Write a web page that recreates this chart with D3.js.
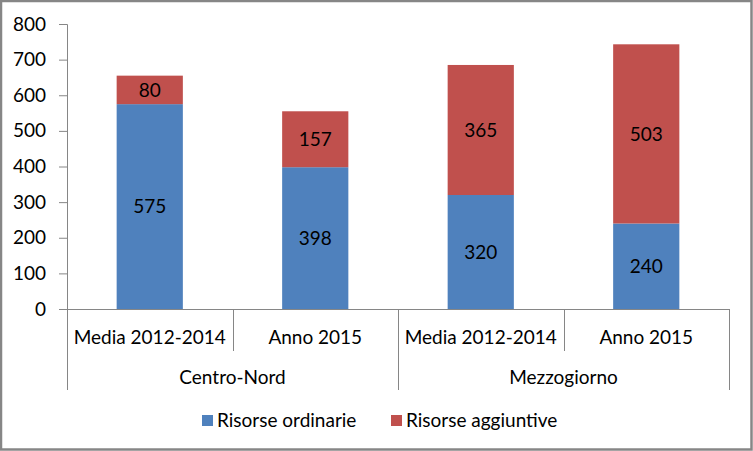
<!DOCTYPE html>
<html>
<head>
<meta charset="utf-8">
<script src="https://cdn.jsdelivr.net/npm/d3@7"></script>
<style>
  body { margin: 0; background: #fff; }
  svg text { font-family: Lato, "Open Sans", sans-serif; fill: #000; }
</style>
</head>
<body>
<svg id="chart" width="753" height="451"></svg>
<script>
// data
const groups = ['Centro-Nord', 'Mezzogiorno'];
const periods = ['Media 2012-2014', 'Anno 2015', 'Media 2012-2014', 'Anno 2015'];
const ordinarie = [575, 398, 320, 240];
const aggiuntive = [80, 157, 365, 503];
const yTicks = [0, 100, 200, 300, 400, 500, 600, 700, 800];
const seriesNames = ['Risorse ordinarie', 'Risorse aggiuntive'];
const colors = ['#4F81BD', '#C0504D'];

let svg = d3.select('#chart');
const width = +svg.attr('width'), height = +svg.attr('height');
const plotL = 67, plotR = 729, plotT = 24, plotB = 309;
const fs = 19;

// outer border
svg.append('rect')
    .attr('x', 1).attr('y', 1)
    .attr('width', width - 2.5).attr('height', height - 2.5)
    .attr('fill', 'none').attr('stroke', '#868686').attr('stroke-width', 2.5);

let x = d3.scaleBand().domain(d3.range(periods.length)).range([plotL, plotR]).paddingInner(0).paddingOuter(0);
let y = d3.scaleLinear().domain([0, 800]).range([plotB, plotT]);
const barW = x.bandwidth() * 0.4;

// y axis
let yAxis = svg.append('g')
    .attr('transform', 'translate(' + plotL + ',0)')
    .call(d3.axisLeft(y).tickValues(yTicks).tickSize(8).tickPadding(13));
yAxis.select('.domain').attr('stroke', '#868686');
yAxis.selectAll('.tick line').attr('stroke', '#868686');
yAxis.selectAll('.tick text').style('font-size', fs + 'px').attr('fill', '#000');

// stacked bars
let stack = periods.map((p, i) => [
    {s: 0, y0: 0, y1: ordinarie[i], v: ordinarie[i], i: i},
    {s: 1, y0: ordinarie[i], y1: ordinarie[i] + aggiuntive[i], v: aggiuntive[i], i: i}
]).flat();

svg.selectAll('rect.bar')
    .data(stack)
    .enter().append('rect')
    .attr('class', 'bar')
    .attr('x', d => x(d.i) + (x.bandwidth() - barW) / 2)
    .attr('width', barW)
    .attr('y', d => y(d.y1))
    .attr('height', d => y(d.y0) - y(d.y1))
    .attr('fill', d => colors[d.s]);

svg.selectAll('text.lbl')
    .data(stack)
    .enter().append('text')
    .attr('class', 'lbl')
    .attr('x', d => x(d.i) + x.bandwidth() / 2)
    .attr('y', d => (y(d.y0) + y(d.y1)) / 2)
    .attr('dy', '0.35em')
    .attr('text-anchor', 'middle')
    .style('font-size', fs + 'px')
    .text(d => d.v);

// category axis, two levels
let axisG = svg.append('g').attr('stroke', '#868686').attr('stroke-width', 1);
axisG.append('line')
    .attr('x1', plotL).attr('x2', plotR).attr('y1', plotB + 0.5).attr('y2', plotB + 0.5);
periods.forEach((p, i) => {
    let xx = Math.round(x(i)) + 0.5;
    axisG.append('line')
        .attr('x1', xx).attr('x2', xx)
        .attr('y1', plotB).attr('y2', i % 2 === 0 ? 390 : 351);
});
axisG.append('line')
    .attr('x1', plotR + 0.5).attr('x2', plotR + 0.5).attr('y1', plotB).attr('y2', 390);

svg.selectAll('text.period')
    .data(periods)
    .enter().append('text')
    .attr('class', 'period')
    .attr('x', (d, i) => x(i) + x.bandwidth() / 2)
    .attr('y', 337)
    .attr('dy', '0.35em')
    .attr('text-anchor', 'middle')
    .style('font-size', fs + 'px')
    .text(d => d);

svg.selectAll('text.group')
    .data(groups)
    .enter().append('text')
    .attr('class', 'group')
    .attr('x', (d, i) => x(i * 2) + x.bandwidth())
    .attr('y', 377)
    .attr('dy', '0.35em')
    .attr('text-anchor', 'middle')
    .style('font-size', fs + 'px')
    .text(d => d);

// legend
const legX = [202, 391];
let leg = svg.selectAll('g.leg')
    .data(seriesNames)
    .enter().append('g')
    .attr('class', 'leg')
    .attr('transform', (d, i) => 'translate(' + legX[i] + ',415)');
leg.append('rect').attr('width', 11).attr('height', 11).attr('fill', (d, i) => colors[i]);
leg.append('text')
    .attr('x', 15).attr('y', 5.5).attr('dy', '0.35em')
    .style('font-size', fs + 'px')
    .text(d => d);
</script>
</body>
</html>
